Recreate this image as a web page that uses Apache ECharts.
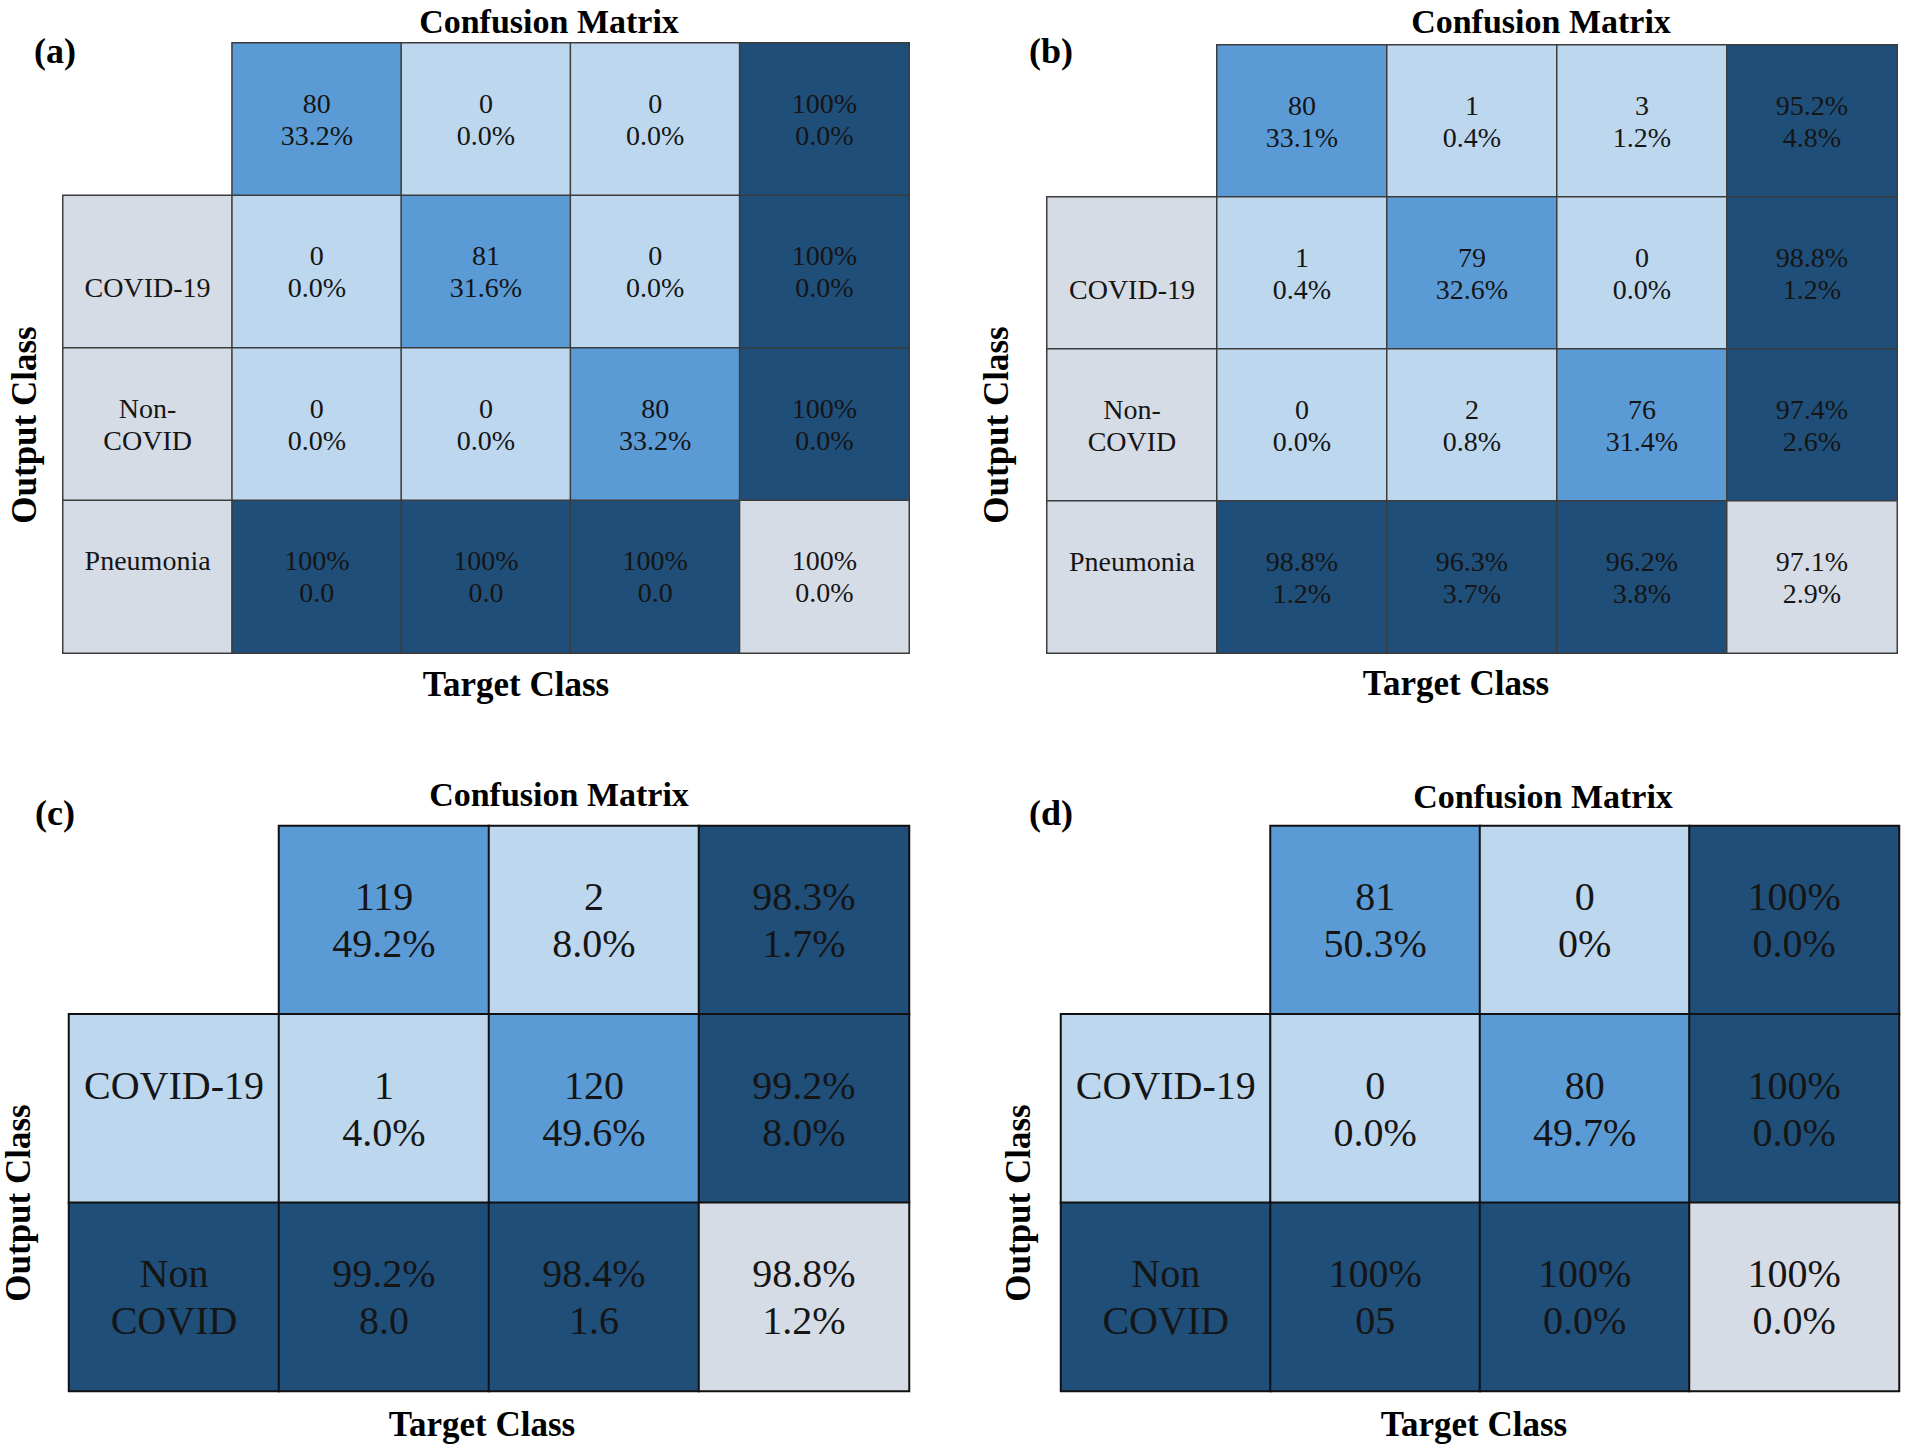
<!DOCTYPE html>
<html>
<head>
<meta charset="utf-8">
<script src="https://cdn.jsdelivr.net/npm/echarts@6/dist/echarts.min.js"></script>
<style>
html,body{margin:0;padding:0;background:#fff;}
#chart{width:1905px;height:1450px;}
</style>
</head>
<body>
<div id="chart"></div>
<script>
// ---------- DATA ----------
const rowLabelsA = ['', 'COVID-19', 'Non-\nCOVID', 'Pneumonia'];
const topA = [
  ['80', '0', '0', '100%'],
  ['0', '81', '0', '100%'],
  ['0', '0', '80', '100%'],
  ['100%', '100%', '100%', '100%']
];
const bottomA = [
  ['33.2%', '0.0%', '0.0%', '0.0%'],
  ['0.0%', '31.6%', '0.0%', '0.0%'],
  ['0.0%', '0.0%', '33.2%', '0.0%'],
  ['0.0', '0.0', '0.0', '0.0%']
];

const rowLabelsB = ['', 'COVID-19', 'Non-\nCOVID', 'Pneumonia'];
const topB = [
  ['80', '1', '3', '95.2%'],
  ['1', '79', '0', '98.8%'],
  ['0', '2', '76', '97.4%'],
  ['98.8%', '96.3%', '96.2%', '97.1%']
];
const bottomB = [
  ['33.1%', '0.4%', '1.2%', '4.8%'],
  ['0.4%', '32.6%', '0.0%', '1.2%'],
  ['0.0%', '0.8%', '31.4%', '2.6%'],
  ['1.2%', '3.7%', '3.8%', '2.9%']
];

const rowLabelsC = ['', 'COVID-19', 'Non\nCOVID'];
const topC = [
  ['119', '2', '98.3%'],
  ['1', '120', '99.2%'],
  ['99.2%', '98.4%', '98.8%']
];
const bottomC = [
  ['49.2%', '8.0%', '1.7%'],
  ['4.0%', '49.6%', '8.0%'],
  ['8.0', '1.6', '1.2%']
];

const rowLabelsD = ['', 'COVID-19', 'Non\nCOVID'];
const topD = [
  ['81', '0', '100%'],
  ['0', '80', '100%'],
  ['100%', '100%', '100%']
];
const bottomD = [
  ['50.3%', '0%', '0.0%'],
  ['0.0%', '49.7%', '0.0%'],
  ['05', '0.0%', '0.0%']
];

const titleText = 'Confusion Matrix';
const xName = 'Target Class';
const yName = 'Output Class';
const tags = ['(a)', '(b)', '(c)', '(d)'];

// ---------- STYLE / LAYOUT ----------
const COLORS = ['#d6dce5', '#bdd7ee', '#5b9bd5', '#1f4e79', '#d6dce5'];
const SERIF = 'Liberation Serif';

const panels = [
  { labels: rowLabelsA, top: topA, bottom: bottomA, labelMode: 'gray',
    grid: {left: 63, top: 43, width: 846, height: 610}, font: 28, lh: 32,
    border: '#3c3c3c', bw: 1.5, labelOffsets: [0, 16, 0, -16],
    titlePos: [549, 21], tagPos: [55, 51], xPos: [516, 684], yPos: [24, 425] },
  { labels: rowLabelsB, top: topB, bottom: bottomB, labelMode: 'gray',
    grid: {left: 1047, top: 45, width: 850, height: 608}, font: 28, lh: 32,
    border: '#3c3c3c', bw: 1.5, labelOffsets: [0, 16, 0, -16],
    titlePos: [1541, 21], tagPos: [1051, 51], xPos: [1456, 683], yPos: [996, 425] },
  { labels: rowLabelsC, top: topC, bottom: bottomC, labelMode: 'row',
    grid: {left: 69, top: 826, width: 840, height: 565}, font: 40, lh: 47,
    border: '#111', bw: 2, labelOffsets: [0, -23, 0],
    titlePos: [559, 794], tagPos: [55, 813], xPos: [482, 1424], yPos: [18, 1203] },
  { labels: rowLabelsD, top: topD, bottom: bottomD, labelMode: 'row',
    grid: {left: 1061, top: 826, width: 838, height: 565}, font: 40, lh: 47,
    border: '#111', bw: 2, labelOffsets: [0, -23, 0],
    titlePos: [1543, 796], tagPos: [1051, 813], xPos: [1474, 1424], yPos: [1018, 1203] }
];

function cellClass(r, c, n) {
  if (r === n && c === n) return 4;
  if (r === n || c === n) return 3;
  if (r === c) return 2;
  return 1;
}

const grids = [], xAxes = [], yAxes = [], series = [], graphics = [];

panels.forEach((p, i) => {
  const n = p.top.length - 1;
  const cols = [];
  for (let k = 0; k <= n + 1; k++) cols.push(String(k));
  const rows = [];
  for (let k = 0; k <= n; k++) rows.push(String(k));
  grids.push(Object.assign({containLabel: false}, p.grid));
  const hidden = {show: false};
  xAxes.push({type: 'category', gridIndex: i, data: cols, axisLine: hidden, axisTick: hidden,
    axisLabel: hidden, splitLine: hidden, splitArea: hidden});
  yAxes.push({type: 'category', gridIndex: i, data: rows, inverse: true, axisLine: hidden,
    axisTick: hidden, axisLabel: hidden, splitLine: hidden, splitArea: hidden});

  const data = [];
  for (let r = 0; r <= n; r++) {
    const lab = p.labels[r];
    if (lab) {
      const cls = p.labelMode === 'gray' ? 0 : (r === n ? 3 : 1);
      data.push({value: [0, r, cls], text: lab,
        label: {offset: [0, p.labelOffsets[r] || 0], fontFamily: SERIF}});
    }
    for (let c = 0; c <= n; c++) {
      data.push({value: [c + 1, r, cellClass(r, c, n)], text: p.top[r][c] + '\n' + p.bottom[r][c]});
    }
  }
  series.push({
    type: 'heatmap', xAxisIndex: i, yAxisIndex: i, data: data,
    itemStyle: {borderColor: p.border, borderWidth: p.bw},
    label: {show: true, color: '#151515', fontFamily: SERIF, fontSize: p.font, lineHeight: p.lh,
      formatter: (q) => q.data.text},
    emphasis: {disabled: true}
  });

  const txt = (t, pos, size, rot) => ({
    type: 'text', x: pos[0], y: pos[1], rotation: rot || 0, silent: true,
    style: {text: t, x: 0, y: 0, fontFamily: SERIF, fontWeight: 'bold', fontSize: size, fill: '#000',
      align: 'center', verticalAlign: 'middle', textAlign: 'center', textVerticalAlign: 'middle'}
  });
  graphics.push(txt(titleText, p.titlePos, 34));
  graphics.push(txt(tags[i], p.tagPos, 36));
  graphics.push(txt(xName, p.xPos, 35));
  graphics.push(txt(yName, p.yPos, 35, Math.PI / 2));
});

const chart = echarts.init(document.getElementById('chart'), null, {renderer: 'svg'});
chart.setOption({
  animation: false,
  backgroundColor: '#fff',
  textStyle: {fontFamily: SERIF},
  grid: grids,
  xAxis: xAxes,
  yAxis: yAxes,
  visualMap: {
    show: false, type: 'piecewise', dimension: 2, seriesIndex: [0, 1, 2, 3],
    pieces: COLORS.map((col, k) => ({value: k, color: col}))
  },
  series: series,
  graphic: graphics
});
</script>
</body>
</html>
